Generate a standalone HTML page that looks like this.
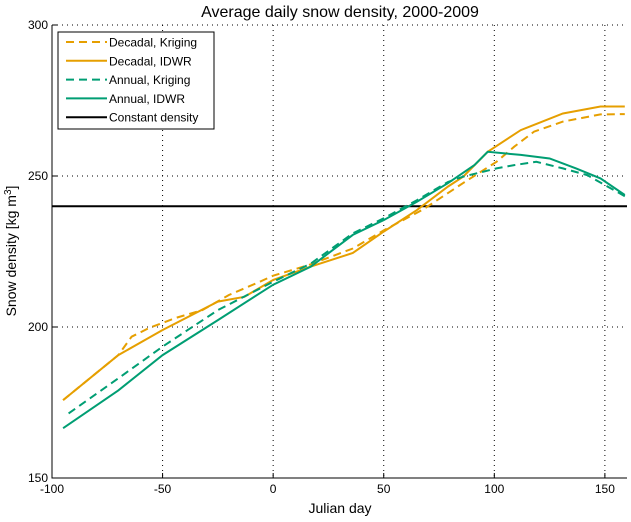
<!DOCTYPE html>
<html><head><meta charset="utf-8"><style>
body{margin:0;background:#fff;font-family:"Liberation Sans",sans-serif}
svg text{font-family:"Liberation Sans",sans-serif}
</style></head><body>
<svg id="c" width="631" height="517"></svg>
<script>
const xTicks=[-100,-50,0,50,100,150];
const yTicks=[150,200,250,300];
const dkDays=[-95,-70,-64,-56,-44,-32,-20,-6,0,16,36,50,68,86,101,109,118,131,148,159];
const dkVals=[175.8,190.7,196.8,199.7,203,205.6,210.6,215,217,220.5,226,232,239,247.7,254.7,259.7,264.7,268,270.4,270.5];
const diDays=[-95,-70,-50,-25,-13,0,17,36,50,65,79,86,97,112,131,148,159];
const diVals=[175.8,190.7,199,208.4,210,215.6,220,224.5,231.6,238.7,246.5,249.8,258,265.2,270.7,273,273];
const akDays=[-92.5,-70,-50,-25,0,17,36,50,65,79,86,101,109,119,131,142,159];
const akVals=[171.4,183,193.5,205.6,215,221,231,236,242,248,249.8,252.5,253.6,254.7,252.5,250.3,243.3];
const aiDays=[-95,-70,-50,-25,0,17,36,50,65,79,91,97,112,125,137,148,159];
const aiVals=[166.5,179,190.7,202.3,214,220,230.5,235.4,241.5,247.6,253.6,258,257,255.8,252.5,249.2,243.7];
const constVal=240;
const X0=52,X1=627,Y0=478,Y1=25,xmin=-100,xmax=160,ymin=150,ymax=300;
const sx=d=>X0+(d-xmin)/(xmax-xmin)*(X1-X0);
const sy=v=>Y0-(v-ymin)/(ymax-ymin)*(Y0-Y1);
const svg=document.getElementById('c');const NS='http://www.w3.org/2000/svg';
function mk(t,a,txt){const e=document.createElementNS(NS,t);for(const k in a)e.setAttribute(k,a[k]);if(txt!==undefined)e.textContent=txt;svg.appendChild(e);return e;}
xTicks.forEach(t=>{const x=sx(t);
 if(t>xmin){const g=mk('line',{x1:x,x2:x,y1:Y1,y2:Y0,stroke:'#000','stroke-dasharray':'1,4'});}
 const tk=mk('line',{x1:x,x2:x,y1:Y0,y2:Y0-5,stroke:'#000'});
 const l=mk('text',{x:x,y:Y0+15,'text-anchor':'middle','font-size':12},t);});
yTicks.forEach(t=>{const y=sy(t);
 if(t>ymin){const g=mk('line',{x1:X0,x2:X1,y1:y,y2:y,stroke:'#000','stroke-dasharray':'1,4'});}
 const tk=mk('line',{x1:X0,x2:X0+5,y1:y,y2:y,stroke:'#000'});
 const l=mk('text',{x:X0-4,y:y+4,'text-anchor':'end','font-size':12},t);});
const ax=mk('path',{d:`M${X0},${Y1}V${Y0}H${X1}`,fill:'none',stroke:'#000'});
const cl=mk('line',{x1:X0,x2:X1,y1:sy(constVal),y2:sy(constVal),stroke:'#000','stroke-width':2});
function series(d,v,c,dash,name){const p=mk('path',{d:d.map((x,i)=>(i?'L':'M')+sx(x).toFixed(1)+','+sy(v[i]).toFixed(1)).join(''),fill:'none',stroke:c,'stroke-width':2,'stroke-dasharray':dash});}
series(dkDays,dkVals,'#e69f00','8,5','decadal-kriging-line');
series(diDays,diVals,'#e69f00','none','decadal-idwr-line');
series(akDays,akVals,'#009e73','8,5','annual-kriging-line');
series(aiDays,aiVals,'#009e73','none','annual-idwr-line');
const ti=mk('text',{x:340,y:17,'text-anchor':'middle','font-size':16},'Average daily snow density, 2000-2009');
const xl=mk('text',{x:340,y:513,'text-anchor':'middle','font-size':14},'Julian day');
const yl=mk('text',{transform:'translate(16,251) rotate(-90)','text-anchor':'middle','font-size':14});yl.innerHTML='Snow density [kg m<tspan dy="-5" font-size="10">3</tspan><tspan dy="5">]</tspan>';
const lb=mk('rect',{x:58,y:32,width:156,height:97,fill:'#fff',stroke:'#000'});
const leg=[['Decadal, Kriging','#e69f00','8,5'],['Decadal, IDWR','#e69f00','none'],['Annual, Kriging','#009e73','8,5'],['Annual, IDWR','#009e73','none'],['Constant density','#000','none']];
leg.forEach((e,i)=>{const y=42+i*18.8;
 const ln=mk('line',{x1:66,x2:107,y1:y,y2:y,stroke:e[1],'stroke-width':2,'stroke-dasharray':e[2]});
 const t=mk('text',{x:109,y:y+4.5,'font-size':12},e[0]);});
</script></body></html>
